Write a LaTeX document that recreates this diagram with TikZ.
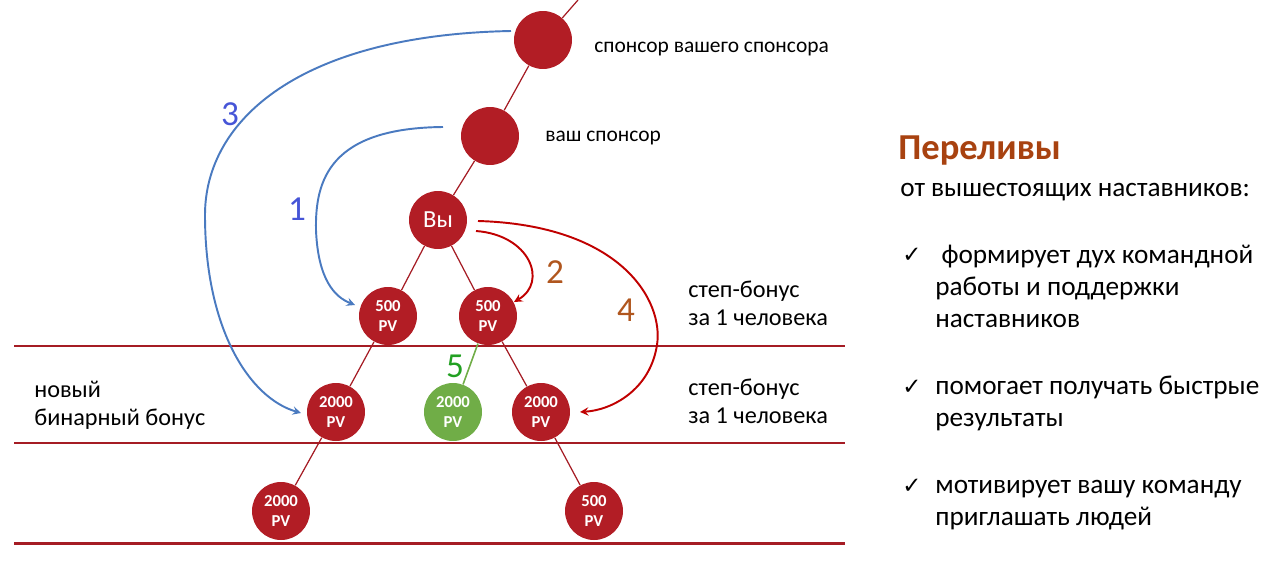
\documentclass[tikz,border=0pt]{standalone}
\usepackage{fontspec}
\setmainfont{Carlito}
\newfontfamily\symbolfont{DejaVu Sans}
\definecolor{nodered}{RGB}{178,29,37}
\definecolor{nodegreen}{RGB}{112,173,71}
\definecolor{linered}{RGB}{165,28,36}
\definecolor{arrowblue}{RGB}{74,122,192}
\definecolor{arrowred}{RGB}{192,0,0}
\definecolor{numblue}{RGB}{70,85,215}
\definecolor{numbrown}{RGB}{176,86,30}
\definecolor{numgreen}{RGB}{34,160,34}
\definecolor{titlebrown}{RGB}{168,66,16}
\begin{document}
\begin{tikzpicture}
[x=0.02cm,y=-0.02cm,
  nodedecorate/.style={shape=circle,inner sep=0pt,minimum size=1.16cm,fill=nodered,
    text=white,align=center,font=\bfseries\fontsize{9.5}{11.5}\selectfont},%
  greendecorate/.style={nodedecorate,fill=nodegreen},%
  linedecorate/.style={-,draw=linered,line width=0.7pt},%
  levelline/.style={draw=linered,line width=1.7pt},%
  bluearrow/.style={-stealth,draw=arrowblue,line width=1.1pt},%
  redarrow/.style={-stealth,draw=arrowred,line width=1.1pt},%
  labeltext/.style={anchor=base west,inner sep=0pt,align=left,font=\fontsize{12.2}{15}\selectfont},%
  bonustext/.style={anchor=base west,inner sep=0pt,align=left,font=\fontsize{13.8}{15.6}\selectfont},%
  bodytext/.style={anchor=base west,inner sep=0pt,align=left,font=\fontsize{15.5}{18.1}\selectfont},%
  numbertext/.style={inner sep=0pt,font=\fontsize{20}{20}\selectfont}]
\useasboundingbox (0,0) rectangle (1282,585);
%% level lines
\foreach \y in {346, 443, 543}
{
  \draw[levelline] (14,\y) -- (845,\y);
}
%% nodes or vertices
\foreach \nodename/\x/\y/\txt in {
  ss/543/40/{}, sp/490/136/{}, you/438/220/{\mdseries\fontsize{14}{14}\selectfont Вы},
  a/388/316/{500\\PV}, b/488/316/{500\\PV},
  c/336/412/{2000\\PV}, d/541/412/{2000\\PV},
  e/281/511/{2000\\PV}, f/594/511/{500\\PV}}
{
  \node (\nodename) at (\x,\y) [nodedecorate] {\txt};
}
\node (g) at (453,412) [greendecorate] {2000\\PV};
\coordinate (top) at (578,0);
%% edges or lines
\path
\foreach \startnode/\endnode in {top/ss, ss/sp, sp/you, you/a, you/b, a/c, b/d, c/e, d/f} {
  (\startnode) edge[linedecorate] node {} (\endnode)
};
\draw[draw=nodegreen,line width=0.9pt] (b) -- (g);
%% overflow arrows
\coordinate (from1) at (443,127);
\coordinate (from3) at (511,31);
\coordinate (to1) at (355,305);
\coordinate (to3) at (301,413);
\coordinate (to2) at (514,302);
\coordinate (to4) at (580,412);
\coordinate (from2) at (476,231);
\coordinate (from4) at (478,221);
\draw[bluearrow] (from1) .. controls (330,128) and (315,180) .. (316,230)
  .. controls (318,280) and (335,297) .. (to1);
\draw[bluearrow] (from3) .. controls (300,35) and (205,120) .. (205,215)
  .. controls (205,330) and (250,398) .. (to3);
\draw[redarrow] (from2) .. controls (530,235) and (548,282) .. (to2);
\draw[redarrow] (from4) .. controls (620,225) and (664,300) .. (657,345)
  .. controls (650,390) and (612,410) .. (to4);
%% numbers
\node[numbertext,text=numblue] (n3) at (230,114) {3};
\node[numbertext,text=numblue] (n1) at (297,209) {1};
\node[numbertext,text=numbrown] (n2) at (555,272) {2};
\node[numbertext,text=numbrown] (n4) at (626,310) {4};
\node[numbertext,text=numgreen] (n5) at (455,366) {5};
%% labels
\node[labeltext] (lss) at (594,52) {спонсор вашего спонсора};
\node[labeltext] (lsp) at (545,141) {ваш спонсор};
\node[bonustext] (step1) at (688,325) {степ-бонус\\за 1 человека};
\node[bonustext] (step2) at (688,423) {степ-бонус\\за 1 человека};
\node[bonustext] (binary) at (34,425) {новый\\бинарный бонус};
%% right text
\node[anchor=base west,inner sep=0pt,text=titlebrown,font=\bfseries\fontsize{20.8}{20.8}\selectfont] (title) at (898,159) {Переливы};
\node[bodytext] (intro) at (900,196) {от вышестоящих наставников:};
\foreach \nodename/\y in {check1/262, check2/394, check3/493}
{
  \node[anchor=base west,inner sep=0pt,font=\symbolfont\fontsize{13}{13}\selectfont] (\nodename) at (902,\y) {✓};
}
\node[bodytext] (item1) at (935,327) {\ формирует дух командной\\работы и поддержки\\наставников};
\node[bodytext] (item2) at (935,426) {помогает получать быстрые\\результаты};
\node[bodytext] (item3) at (935,525) {мотивирует вашу команду\\приглашать людей};
\end{tikzpicture}
\end{document}
